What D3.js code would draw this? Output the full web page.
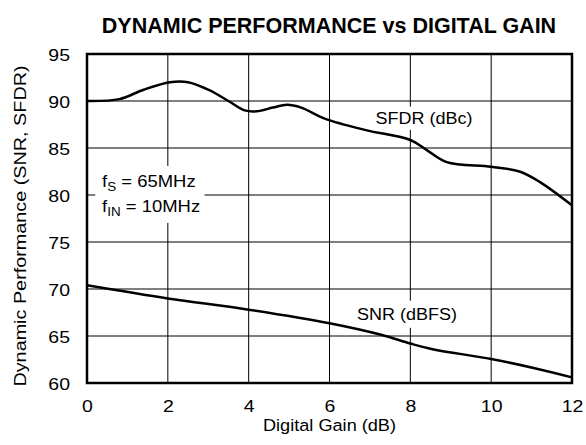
<!DOCTYPE html>
<html>
<head>
<meta charset="utf-8">
<script src="https://cdn.jsdelivr.net/npm/d3@7"></script>
<style>
  body { margin: 0; background: #fff; }
  text { font-family: "Liberation Sans", Arial, sans-serif; }
</style>
</head>
<body>
<script>
// chart data
const xTicks = [0, 2, 4, 6, 8, 10, 12];
const yTicks = [60, 65, 70, 75, 80, 85, 90, 95];

const sfdrGain = [0, 0.8, 1.4, 2.05, 2.5, 3.0, 3.5, 3.9, 4.2, 4.6, 4.95, 5.3, 5.9, 6.9, 8.0, 8.4, 8.9, 10.0, 10.7, 11.2, 12];
const sfdrVal  = [90.0, 90.2, 91.2, 92.0, 92.0, 91.2, 90.0, 89.0, 88.9, 89.3, 89.6, 89.3, 88.1, 86.9, 85.85, 84.8, 83.5, 83.0, 82.5, 81.4, 78.9];

const snrGain = [0, 2, 4, 6, 7.3, 8.0, 8.55, 10, 11.05, 12];
const snrVal  = [70.4, 69.0, 67.8, 66.35, 65.1, 64.2, 63.6, 62.55, 61.6, 60.6];

const width = 586;
const height = 445;
const margin = {top: 54, right: 14, bottom: 62, left: 87};
const fs = 16.5;      // body font size
const sx = 1.18;      // the original text is a bit wider than Arial

const x = d3.scaleLinear()
  .domain([0, 12])
  .range([margin.left, width - margin.right]);

const y = d3.scaleLinear()
  .domain([60, 95])
  .range([height - margin.bottom, margin.top]);

const svg = d3.select('body').append('svg')
  .attr('width', width)
  .attr('height', height);

// title
svg.append('text')
  .attr('x', 329)
  .attr('y', 33)
  .attr('text-anchor', 'middle')
  .attr('font-size', '21.5px')
  .attr('font-weight', 'bold')
  .text('DYNAMIC PERFORMANCE vs DIGITAL GAIN');

// grid
svg.append('g')
  .selectAll('line')
  .data(xTicks)
  .join('line')
  .attr('x1', d => x(d)).attr('x2', d => x(d))
  .attr('y1', y(60)).attr('y2', y(95))
  .attr('stroke', '#000').attr('stroke-width', 1);

svg.append('g')
  .selectAll('line')
  .data(yTicks)
  .join('line')
  .attr('x1', x(0)).attr('x2', x(12))
  .attr('y1', d => y(d)).attr('y2', d => y(d))
  .attr('stroke', '#000').attr('stroke-width', 1);

// tick labels
const xAxis = g => g
  .attr('transform', `translate(0,${y(60)})`)
  .call(d3.axisBottom(x).tickValues(xTicks).tickSize(0))
  .call(g => g.select('.domain').remove())
  .call(g => g.selectAll('text')
    .attr('font-size', fs + 'px').attr('fill', '#000')
    .style('font-family', '"Liberation Sans", Arial, sans-serif')
    .attr('y', 0)
    .attr('transform', `translate(0,17) scale(${sx},1)`));

const yAxis = g => g
  .attr('transform', `translate(${x(0)},0)`)
  .call(d3.axisLeft(y).tickValues(yTicks).tickSize(0))
  .call(g => g.select('.domain').remove())
  .call(g => g.selectAll('text')
    .attr('font-size', fs + 'px').attr('fill', '#000')
    .style('font-family', '"Liberation Sans", Arial, sans-serif')
    .attr('x', 0)
    .attr('transform', `translate(-17,1.5) scale(${sx},1)`));

svg.append('g').call(xAxis);
svg.append('g').call(yAxis);

// axis titles
svg.append('text')
  .attr('transform', `translate(${(x(0) + x(12)) / 2},431) scale(1.1,1)`)
  .attr('text-anchor', 'middle')
  .attr('font-size', fs + 'px')
  .text('Digital Gain (dB)');

svg.append('text')
  .attr('transform', `translate(26,226) rotate(-90) scale(1.2,1)`)
  .attr('text-anchor', 'middle')
  .attr('font-size', fs + 'px')
  .text('Dynamic Performance (SNR, SFDR)');

// curve labels on white boxes (drawn under the curves)
function boxedLabel(txt, cx, cy, padX, padY) {
  const g = svg.append('g').attr('transform', `translate(${cx},${cy}) scale(1.09,1)`);
  const t = g.append('text')
    .attr('text-anchor', 'middle')
    .attr('font-size', fs + 'px')
    .text(txt);
  const b = t.node().getBBox();
  g.insert('rect', 'text')
    .attr('x', b.x - padX).attr('y', b.y - padY)
    .attr('width', b.width + 2 * padX).attr('height', b.height + 2 * padY)
    .attr('fill', '#fff');
}

boxedLabel('SFDR (dBc)', 424, 124, 3, 2);
boxedLabel('SNR (dBFS)', 407, 320, 3, 4);

// conditions note
const note = svg.append('g').attr('transform', `translate(102,0) scale(1.12,1)`);
const n1 = note.append('text').attr('x', 0).attr('y', 187).attr('font-size', fs + 'px');
n1.append('tspan').text('f');
n1.append('tspan').attr('font-size', '12px').attr('dy', 4).text('S');
n1.append('tspan').attr('dy', -4).text(' = 65MHz');
const n2 = note.append('text').attr('x', 0).attr('y', 212).attr('font-size', fs + 'px');
n2.append('tspan').text('f');
n2.append('tspan').attr('font-size', '12px').attr('dy', 4).text('IN');
n2.append('tspan').attr('dy', -4).text(' = 10MHz');
{
  const b = note.node().getBBox();
  note.insert('rect', ':first-child')
    .attr('x', b.x - 6).attr('y', b.y - 6)
    .attr('width', b.width + 10).attr('height', b.height + 10)
    .attr('fill', '#fff');
}

// curves
const line = d3.line()
  .x(d => x(d[0]))
  .y(d => y(d[1]))
  .curve(d3.curveCatmullRom.alpha(0.5));

svg.append('path')
  .datum(d3.zip(sfdrGain, sfdrVal))
  .attr('fill', 'none')
  .attr('stroke', '#000')
  .attr('stroke-width', 2.5)
  .attr('d', line);

svg.append('path')
  .datum(d3.zip(snrGain, snrVal))
  .attr('fill', 'none')
  .attr('stroke', '#000')
  .attr('stroke-width', 2.5)
  .attr('d', line);

// frame
svg.append('rect')
  .attr('x', x(0)).attr('y', y(95))
  .attr('width', x(12) - x(0)).attr('height', y(60) - y(95))
  .attr('fill', 'none')
  .attr('stroke', '#000')
  .attr('stroke-width', 2.5);
</script>
</body>
</html>
